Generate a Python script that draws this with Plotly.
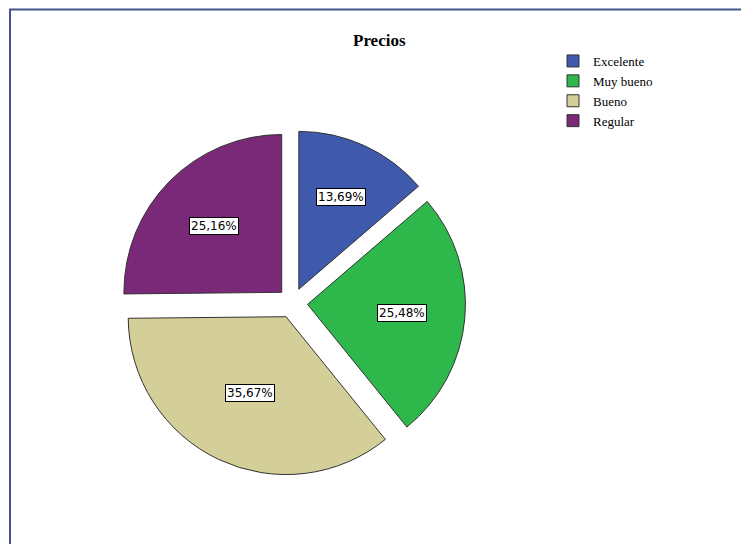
import math
import plotly.graph_objects as go

categories = ["Excelente", "Muy bueno", "Bueno", "Regular"]
values = [13.69, 25.48, 35.67, 25.16]
value_labels = ["13,69%", "25,48%", "35,67%", "25,16%"]
colors = ["#3f59ad", "#2eb84b", "#d4ce99", "#7a2878"]

W, H = 741, 544
PULL = 0.096
# pie box in pixels
cx_px, cy_px, half = 292.5, 303.0, 173.0
dom_x = [(cx_px - half) / W, (cx_px + half) / W]
dom_y = [1 - (cy_px + half) / H, 1 - (cy_px - half) / H]

fig = go.Figure()
fig.add_trace(go.Pie(
    labels=categories,
    values=values,
    sort=False,
    direction="clockwise",
    rotation=0,
    pull=[PULL] * len(values),
    marker=dict(colors=colors, line=dict(color="#333333", width=1)),
    textinfo="none",
    hoverinfo="label+percent",
    domain=dict(x=dom_x, y=dom_y),
))

# label boxes placed at each (pulled) slice centroid
r = half / (1 + PULL)
total = sum(values)
start = 90.0
for v, lab in zip(values, value_labels):
    span = 360.0 * v / total
    alpha = math.radians(span)
    mid = math.radians(start - span / 2)
    start -= span
    k = 4 * math.sin(alpha / 2) / (3 * alpha)
    d = r * PULL + r * k
    px = cx_px + d * math.cos(mid)
    py = cy_px - d * math.sin(mid)
    fig.add_annotation(
        x=px / W, y=1 - py / H, xref="paper", yref="paper",
        xanchor="center", yanchor="middle",
        text=lab, showarrow=False,
        font=dict(family="DejaVu Sans", size=12, color="#000000"),
        bgcolor="#ffffff", bordercolor="#000000", borderwidth=1, borderpad=1,
    )

fig.add_annotation(
    x=380 / W, y=1 - 41 / H, xref="paper", yref="paper",
    xanchor="center", yanchor="middle",
    text="<b>Precios</b>", showarrow=False,
    font=dict(family="Liberation Serif", size=17, color="#000000"),
)

# outer frame
fig.add_shape(type="rect", xref="paper", yref="paper",
              x0=10 / W, y0=-0.05, x1=1.05, y1=1 - 9.5 / H,
              line=dict(color="#45558a", width=2))

fig.update_layout(
    width=W, height=H,
    margin=dict(l=0, r=0, t=0, b=0),
    paper_bgcolor="#ffffff",
    plot_bgcolor="#ffffff",
    showlegend=True,
    legend=dict(
        x=553 / W, y=1 - 46 / H, xanchor="left", yanchor="top",
        font=dict(family="Liberation Serif", size=13, color="#000000"),
        bgcolor="rgba(0,0,0,0)", traceorder="normal",
        tracegroupgap=0,
    ),
)

fig.write_html("out.html", config={"displayModeBar": False},
               post_script="document.body.style.margin='0';")
